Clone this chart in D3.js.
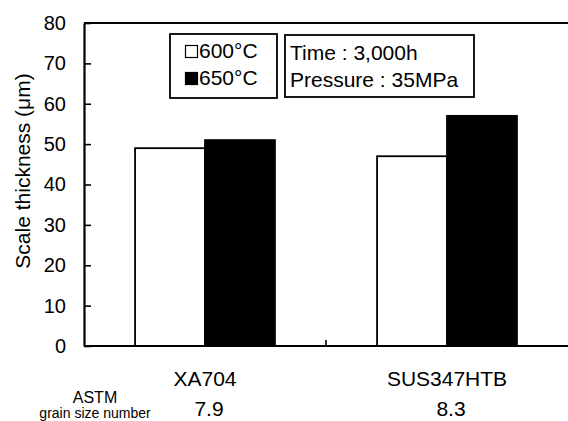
<!DOCTYPE html>
<html>
<head>
<meta charset="utf-8">
<script src="https://cdn.jsdelivr.net/npm/d3@7/dist/d3.min.js"></script>
<style>
  html, body { margin: 0; padding: 0; background: #fff; }
  svg { display: block; font-family: 'Liberation Sans', Arial, sans-serif; }
</style>
</head>
<body>
<div id="chart"></div>
<script>
(function () {
  'use strict';

  var categories = ['XA704', 'SUS347HTB'];
  var grainSize  = ['7.9', '8.3'];
  var seriesKeys = ['600°C', '650°C'];
  var values600  = [49, 47];
  var values650  = [51, 57];
  var yTicks     = [0, 10, 20, 30, 40, 50, 60, 70, 80];
  var noteLines  = ['Time : 3,000h', 'Pressure : 35MPa'];

  var COL = { ink: '#000', paper: '#fff' };
  var fills = [COL.paper, COL.ink];

  var W = 568, H = 421;
  var mg = { top: 23, right: 0, bottom: 75, left: 84 };

  var svg = d3.select('#chart').append('svg')
    .attr('width', W).attr('height', H);

  var y = d3.scaleLinear().domain([0, 80]).range([H - mg.bottom, mg.top]);
  var x = d3.scaleBand().domain(categories).range([mg.left, W - mg.right]);
  var xs = d3.scaleBand().domain(seriesKeys).range([0, x.bandwidth()])
    .paddingInner(0).paddingOuter(0.73);

  var rows = categories.map(function (c, i) {
    return { cat: c, vals: [values600[i], values650[i]] };
  });

  // Bars
  var grp = svg.selectAll('g.grp').data(rows).join('g')
    .attr('class', 'grp')
    .attr('transform', function (d) { return 'translate(' + x(d.cat) + ',0)'; });

  grp.selectAll('rect').data(function (d) {
    return d.vals.map(function (v, k) { return { key: seriesKeys[k], v: v, k: k }; });
  }).join('rect')
    .attr('x', function (d) { return xs(d.key); })
    .attr('y', function (d) { return y(d.v); })
    .attr('width', xs.bandwidth())
    .attr('height', function (d) { return y(0) - y(d.v); })
    .attr('fill', function (d) { return fills[d.k]; })
    .attr('stroke', COL.ink)
    .attr('stroke-width', 1.8);

  // Frame lines: top and bottom
  svg.append('line')
    .attr('x1', mg.left).attr('x2', W)
    .attr('y1', y(80)).attr('y2', y(80))
    .attr('stroke', COL.ink).attr('stroke-width', 2.2);
  svg.append('line')
    .attr('x1', mg.left).attr('x2', W)
    .attr('y1', y(0)).attr('y2', y(0))
    .attr('stroke', COL.ink).attr('stroke-width', 2.2);

  // Y axis (ticks inward)
  var yAx = svg.append('g')
    .attr('transform', 'translate(' + mg.left + ',0)')
    .call(d3.axisLeft(y).tickValues(yTicks).tickSize(-7).tickPadding(18).tickSizeOuter(0));
  yAx.select('.domain').attr('stroke-width', 2.2).attr('stroke', COL.ink);
  yAx.selectAll('.tick line').attr('stroke-width', 1.6).attr('stroke', COL.ink);
  yAx.selectAll('text')
    .attr('font-size', 20).attr('fill', COL.ink)
    .attr('font-family', "'Liberation Sans', Arial, sans-serif");

  // Category divider tick
  svg.append('line')
    .attr('x1', x(categories[1])).attr('x2', x(categories[1]))
    .attr('y1', y(0)).attr('y2', y(0) - 6)
    .attr('stroke', COL.ink).attr('stroke-width', 1.6);

  // Y axis title
  svg.append('text')
    .attr('transform', 'translate(30,' + 171 + ') rotate(-90)')
    .attr('text-anchor', 'middle')
    .attr('font-size', 21)
    .attr('fill', COL.ink)
    .text('Scale thickness (μm)');

  // Category labels and grain size numbers
  svg.selectAll('text.cat').data(categories).join('text')
    .attr('class', 'cat')
    .attr('x', function (c) { return x(c) + x.bandwidth() / 2; })
    .attr('y', 386)
    .attr('text-anchor', 'middle')
    .attr('font-size', 21)
    .text(function (c) { return c; });

  svg.selectAll('text.gs').data(grainSize).join('text')
    .attr('class', 'gs')
    .attr('x', function (g, i) { return x(categories[i]) + x.bandwidth() / 2 + 4; })
    .attr('y', 416)
    .attr('text-anchor', 'middle')
    .attr('font-size', 21)
    .text(function (g) { return g; });

  svg.append('text')
    .attr('x', 95).attr('y', 403)
    .attr('text-anchor', 'middle').attr('font-size', 16)
    .text('ASTM');
  svg.append('text')
    .attr('x', 95).attr('y', 418)
    .attr('text-anchor', 'middle').attr('font-size', 14)
    .text('grain size number');

  // Legend box
  var lg = svg.append('g').attr('transform', 'translate(170,34)');
  lg.append('rect')
    .attr('width', 107).attr('height', 64)
    .attr('fill', COL.paper).attr('stroke', COL.ink).attr('stroke-width', 1.8);
  seriesKeys.forEach(function (k, i) {
    var yy = 24 + i * 27;
    lg.append('rect')
      .attr('x', 15.5).attr('y', yy - 12.5)
      .attr('width', 12).attr('height', 12)
      .attr('fill', fills[i]).attr('stroke', COL.ink).attr('stroke-width', 1.2);
    lg.append('text')
      .attr('x', 29).attr('y', yy)
      .attr('font-size', 21)
      .text(k);
  });

  // Test condition box
  var nb = svg.append('g').attr('transform', 'translate(285,35)');
  nb.append('rect')
    .attr('width', 189).attr('height', 62)
    .attr('fill', COL.paper).attr('stroke', COL.ink).attr('stroke-width', 1.8);
  noteLines.forEach(function (t, i) {
    nb.append('text')
      .attr('x', 5).attr('y', 25 + i * 27)
      .attr('font-size', 21)
      .text(t);
  });
}());
</script>
</body>
</html>
